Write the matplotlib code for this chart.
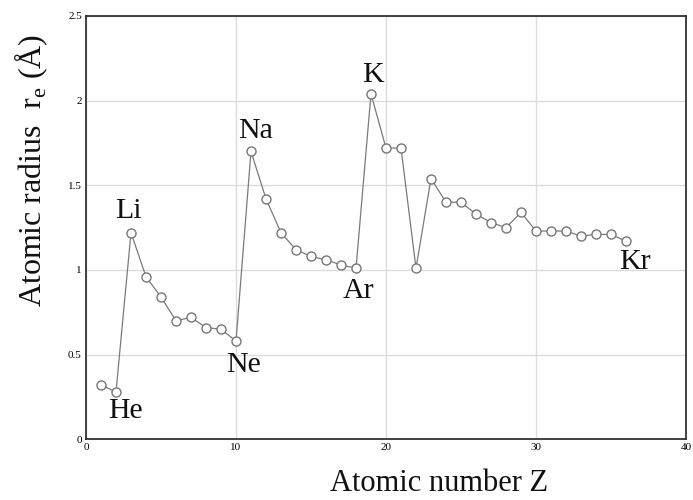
import matplotlib
matplotlib.use("Agg")
import matplotlib.pyplot as plt

# Atomic radius r_e (Angstrom) for Z = 1..36
atomic_number = list(range(1, 37))
radius = [0.32, 0.28, 1.22, 0.96, 0.84, 0.70, 0.72, 0.66, 0.65, 0.58,
          1.70, 1.42, 1.22, 1.12, 1.08, 1.06, 1.03, 1.01,
          2.04, 1.72, 1.72, 1.01, 1.54, 1.40, 1.40, 1.33, 1.28, 1.25,
          1.34, 1.23, 1.23, 1.23, 1.20, 1.21, 1.21, 1.17]

# Element labels and their text positions (Z, r)
element_names = ["He", "Li", "Ne", "Na", "Ar", "K", "Kr"]
label_x = [2.65, 2.8, 10.5, 11.3, 18.2, 19.1, 36.6]
label_y = [0.165, 1.35, 0.44, 1.82, 0.875, 2.15, 1.05]

x_ticks = [0, 10, 20, 30, 40]
y_ticks = [0, 0.5, 1, 1.5, 2, 2.5]
y_tick_labels = ["0", "0.5", "1", "1.5", "2", "2.5"]

serif = "Liberation Serif"

fig = plt.figure(figsize=(6.93, 5.0), dpi=100)
ax = fig.add_axes([86 / 693, 60.7 / 500, 600 / 693, 423.3 / 500])

ax.plot(atomic_number, radius, color="#7a7a7a", lw=0.9, marker="o",
        markersize=6.5, markerfacecolor="white", markeredgecolor="#777777",
        markeredgewidth=1.0, zorder=3)

for name, tx, ty in zip(element_names, label_x, label_y):
    ax.text(tx, ty, name, fontfamily=serif, fontsize=21.5, ha="center",
            va="center", color="#111111", zorder=4)

ax.set_xlim(0, 40)
ax.set_ylim(0, 2.5)
ax.set_xticks(x_ticks)
ax.set_yticks(y_ticks)
ax.set_yticklabels(y_tick_labels)
ax.tick_params(length=0, labelsize=8, pad=3)
for lbl in ax.get_xticklabels() + ax.get_yticklabels():
    lbl.set_fontfamily(serif)

ax.grid(True, color="#dcdcdc", lw=1.0, zorder=0)
ax.set_axisbelow(True)
for sp in ax.spines.values():
    sp.set_color("#333333")
    sp.set_linewidth(1.3)

# Axis titles
fig.text(439 / 693, 0.004, "Atomic number Z", fontfamily=serif,
         fontsize=22, ha="center", va="bottom", color="#111111")
fig.text(31 / 693, 1 - 170 / 500, r"Atomic radius  r$_\mathregular{e}$ (Å)",
         fontfamily=serif, fontsize=23, rotation=90, ha="center",
         va="center", color="#111111")

fig.savefig("out.png", dpi=100)
